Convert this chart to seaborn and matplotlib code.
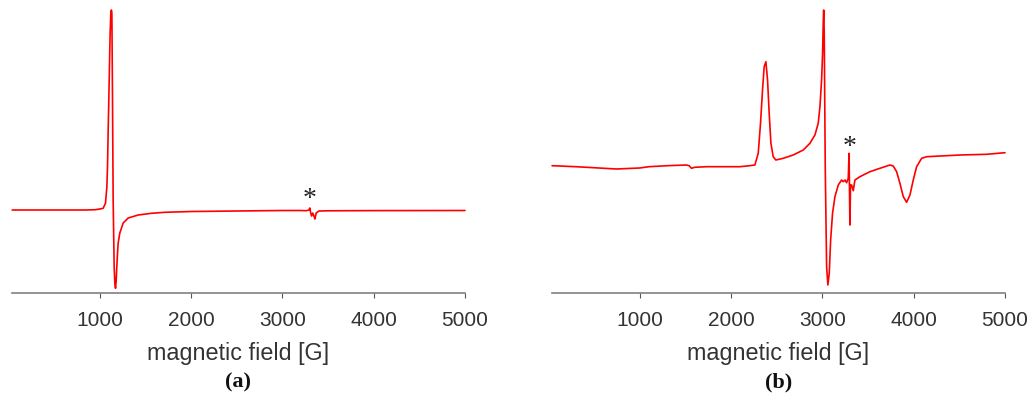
import matplotlib
matplotlib.use("Agg")
import matplotlib.pyplot as plt
import seaborn as sns
import pandas as pd

# ---- data (arbitrary intensity units) ----
field_a = [40, 500, 836, 950, 1000, 1036, 1062, 1077, 1084, 1091, 1102, 1113,
           1121, 1127, 1132, 1139, 1146, 1157, 1165, 1172, 1179, 1186, 1194,
           1201, 1219, 1256, 1311, 1420, 1566, 1712, 2000, 2500, 3000, 3200,
           3260, 3290, 3300, 3310, 3320, 3332, 3345, 3356, 3370, 3400, 3500,
           4000, 5000]
signal_a = [83, 83, 83, 83.3, 84, 84.7, 89.7, 106, 126, 160, 210, 260,
            281, 283, 280, 193, 93, 26, 9, 4.7, 12, 26, 40,
            50, 60, 70, 75, 78, 79.7, 80.7, 81.5, 82, 82.5, 82.5,
            82.3, 83, 85, 80, 77, 80, 77, 74, 80, 82, 82.2,
            82.4, 82.5]

field_b = [39, 300, 744, 1000, 1100, 1300, 1511, 1540, 1566, 1600, 1730, 2096,
           2205, 2260, 2297, 2322, 2344, 2362, 2381, 2399, 2417, 2436, 2461,
           2490, 2571, 2680, 2790, 2863, 2918, 2954, 2973, 2991, 3002, 3009,
           3014, 3020, 3031, 3046, 3060, 3075, 3090, 3111, 3137, 3174, 3210,
           3228, 3247, 3265, 3283, 3292, 3297, 3301, 3308, 3320, 3338, 3356,
           3411, 3521, 3630, 3740, 3776, 3813, 3849, 3886, 3922, 3959, 3995,
           4032, 4087, 4142, 4507, 4799, 5000]
signal_b = [127.3, 126.3, 124, 125, 126.3, 127.3, 128, 127.3, 124.7, 125.7, 126.3, 126.3,
            127.3, 128, 139.7, 169.7, 203, 226.3, 231.3, 213, 179.7, 149.7, 136.3,
            133, 134.7, 138, 143, 149.7, 158, 169.7, 186.3, 213, 239.7, 270,
            283, 259.7, 126.3, 26.3, 8, 19.7, 53, 79.7, 96.3, 108, 113,
            111.3, 113, 110.3, 114.7, 139.7, 100, 68, 108, 108, 102.3, 113,
            116.3, 121.3, 124.7, 128, 127, 121.3, 109.7, 96.3, 90.7, 98, 113,
            126.3, 134.7, 136.3, 138, 138.7, 140.3]

ticks = [1000, 2000, 3000, 4000, 5000]
tick_labels = ["1000", "2000", "3000", "4000", "5000"]
star_field = 3300
star_a = 94
star_b = 146
captions = ["(a)", "(b)"]
xlabel = "magnetic field [G]"

sns.set_style("white")
plt.rcParams["font.family"] = ["Liberation Sans", "DejaVu Sans"]

fig = plt.figure(figsize=(10.29, 3.98), dpi=100)
W, H = 1029, 398
axes = [fig.add_axes([12 / W, 105 / H, 453 / W, 283 / H]),
        fig.add_axes([552 / W, 105 / H, 453 / W, 283 / H])]

panels = [(field_a, signal_a, star_a), (field_b, signal_b, star_b)]
for ax, (fx, sy, st), cap in zip(axes, panels, captions):
    df = pd.DataFrame({"field": fx, "signal": sy})
    sns.lineplot(data=df, x="field", y="signal", ax=ax, color="#ff0000",
                 linewidth=1.2, estimator=None, sort=False)
    for ln in ax.get_lines():
        ln.set_clip_on(False)
        ln.set_solid_joinstyle("round")
    ax.set_xlim(38, 5000)
    ax.set_ylim(0, 283)
    ax.set_yticks([])
    ax.set_ylabel("")
    ax.set_xticks(ticks)
    ax.set_xticklabels(tick_labels)
    ax.tick_params(axis="x", direction="out", length=3.3, width=0.8,
                   color="#555555", labelsize=15, labelcolor="#333333", pad=9.5,
                   bottom=True)
    ax.set_xlabel(xlabel, fontsize=16.8, color="#333333", labelpad=9)
    for s in ["top", "right", "left"]:
        ax.spines[s].set_visible(False)
    ax.spines["bottom"].set_color("#808080")
    ax.spines["bottom"].set_linewidth(1.2)
    ax.patch.set_alpha(0)
    ax.text(star_field, st, "*", ha="center", va="center", fontsize=20,
            family="Liberation Serif", color="#222222")
    pos = ax.get_position()
    fig.text(pos.x0 + pos.width / 2, 16 / H, cap, ha="center", va="center",
             fontsize=16, fontweight="bold", family="Liberation Serif",
             color="#111111")

fig.savefig("out.png", dpi=100)
